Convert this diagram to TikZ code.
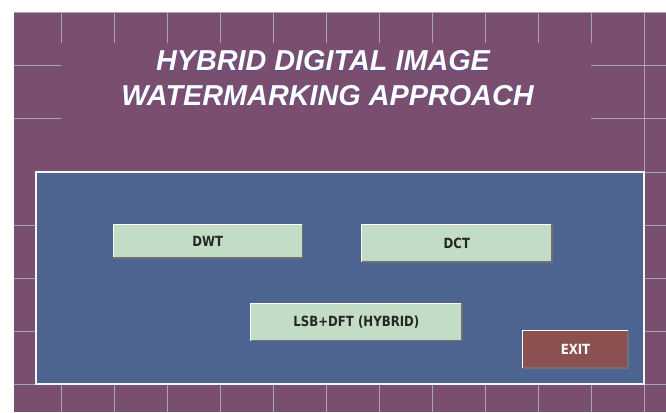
\documentclass[tikz,border=0pt]{standalone}
\usepackage{fontspec}
\newfontfamily\titlefont{Liberation Sans}
\newfontfamily\btnfont[FakeStretch=0.84]{DejaVu Sans}
\definecolor{bgpurple}{RGB}{122,78,110}
\definecolor{panelblue}{RGB}{77,99,144}
\definecolor{btngreen}{RGB}{194,220,197}
\definecolor{exitred}{RGB}{139,81,81}
\definecolor{gridgray}{RGB}{168,168,168}
\definecolor{bevdark}{RGB}{112,112,112}
\definecolor{shadowblue}{RGB}{70,80,170}
\newcommand\bevel[1]{%
  \draw[white,line width=1.2] (#1.south west) |- (#1.north east);
  \draw[bevdark,line width=1.5] (#1.south west) -| (#1.north east);}
\begin{document}
\begin{tikzpicture}[x=1pt,y=-1pt,
  gridline/.style={gridgray,line width=0.9},
  panelbox/.style={draw=white!92!gray,line width=1.6,fill=panelblue,inner sep=0pt,minimum width=608,minimum height=212},
  btn/.style={fill=btngreen,inner sep=0pt,font=\btnfont\bfseries\fontsize{14}{16}\selectfont,text=black!85},
  exitbtn/.style={btn,fill=exitred,text=white!95!gray},
  titletext/.style={font=\titlefont\bfseries\itshape\fontsize{28.8}{32}\selectfont,anchor=base,inner sep=0pt},
]
\useasboundingbox (0,0) rectangle (666,412);
\fill[white] (0,0) rectangle (666,412);
\fill[bgpurple] (14,12) rectangle (666,412);
% grid
\draw[gridline] (14,12) -- (666,12);
\foreach \x in {61,114,...,591} \draw[gridline] (\x,12) -- (\x,43);
\draw[gridline] (644,12) -- (644,412);
\foreach \y in {65.7,118.3} {\draw[gridline] (14,\y) -- (61,\y); \draw[gridline] (591,\y) -- (666,\y);}
\foreach \y in {225,278,331} {\draw[gridline] (14,\y) -- (36,\y); \draw[gridline] (644,\y) -- (666,\y);}
\draw[gridline] (644,172) -- (666,172);
\draw[gridline] (14,384) -- (666,384);
\foreach \x in {61,114,...,591} \draw[gridline] (\x,384) -- (\x,412);
% title
\node[titletext,text=shadowblue] (t1s) at (322.4,71.2) {HYBRID DIGITAL IMAGE};
\node[titletext,text=shadowblue] (t2s) at (326.9,105.5) {WATERMARKING APPROACH};
\node[titletext,text=white] (t1) at (323,70.7) {HYBRID DIGITAL IMAGE};
\node[titletext,text=white] (t2) at (327.5,105) {WATERMARKING APPROACH};
% panel
\node[panelbox] (panel) at (340,278) {};
% buttons
\node[btn,minimum width=189,minimum height=33.4] (dwt) at (207.8,241) {DWT};
\bevel{dwt}
\node[btn,minimum width=189.7,minimum height=37.4] (dct) at (456.9,243) {DCT};
\bevel{dct}
\node[btn,minimum width=210.7,minimum height=37] (lsb) at (356.4,321.8) {LSB+DFT (HYBRID)};
\bevel{lsb}
\node[exitbtn,minimum width=105,minimum height=37] (exit) at (575.5,349.5) {EXIT};
\bevel{exit}
\end{tikzpicture}
\end{document}
